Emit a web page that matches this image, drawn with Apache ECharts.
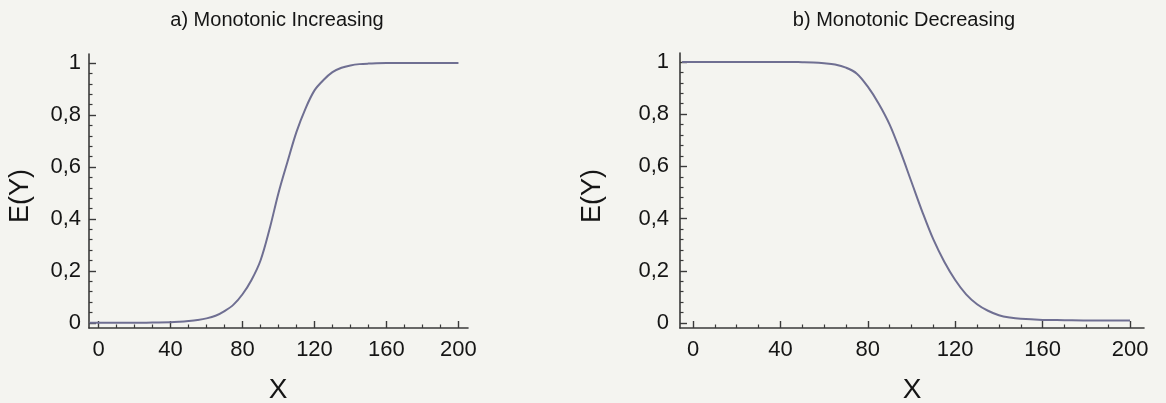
<!DOCTYPE html>
<html>
<head>
<meta charset="utf-8">
<script src="https://cdn.jsdelivr.net/npm/echarts@6/dist/echarts.min.js"></script>
<style>
html,body{margin:0;padding:0;background:#f4f4f0;}
#c{width:1166px;height:403px;}
</style>
</head>
<body>
<div id="c"></div>
<script>
// ---- data ----
const titleA = 'a) Monotonic Increasing';
const titleB = 'b) Monotonic Decreasing';
const xName = 'X';
const yName = 'E(Y)';
const xTicks = [0, 40, 80, 120, 160, 200];
const xMinor = [10, 20, 30, 50, 60, 70, 90, 100, 110, 130, 140, 150, 170, 180, 190];
const yTicks = [0, 0.2, 0.4, 0.6, 0.8, 1];
const yMinor = [0.04, 0.08, 0.12, 0.16, 0.24, 0.28, 0.32, 0.36, 0.44, 0.48, 0.52, 0.56, 0.64, 0.68, 0.72, 0.76, 0.84, 0.88, 0.92, 0.96];

const xA = [-5, 0, 10, 20, 30, 40, 45, 50, 55, 60, 65, 70, 75, 80, 85, 90, 95, 100, 105, 110, 115, 120, 125, 130, 135, 140, 145, 150, 160, 170, 180, 190, 200];
const yA = [0, 0, 0, 0, 0.001, 0.002, 0.004, 0.007, 0.011, 0.017, 0.027, 0.045, 0.07, 0.11, 0.165, 0.24, 0.36, 0.5, 0.62, 0.735, 0.825, 0.895, 0.935, 0.965, 0.982, 0.991, 0.996, 0.998, 1.0, 1.0, 1.0, 1.0, 1.0];

const xB = [-5, 0, 10, 20, 30, 40, 50, 55, 60, 65, 70, 75, 80, 85, 90, 95, 100, 105, 110, 115, 120, 125, 130, 135, 140, 145, 150, 160, 170, 180, 190, 200];
const yB = [1.0, 1.0, 1.0, 1.0, 1.0, 1.0, 0.999, 0.998, 0.995, 0.99, 0.978, 0.955, 0.905, 0.84, 0.76, 0.655, 0.54, 0.425, 0.32, 0.235, 0.165, 0.11, 0.072, 0.047, 0.03, 0.021, 0.016, 0.012, 0.011, 0.01, 0.01, 0.01];

// ---- styles ----
const axisColor = '#3a3a3a';
const textColor = '#151515';
const curveColor = '#6f6f92';
const font = 'Arial, "Liberation Sans", sans-serif';

function zip(xs, ys) { return xs.map((x, i) => [x, ys[i]]); }
const fmtY = v => String(v).replace('.', ',');

function xAxes(gi, min, max) {
  return [
    {
      gridIndex: gi, type: 'value', min: min, max: max, position: 'bottom',
      axisLine: { onZero: false, lineStyle: { color: axisColor, width: 1.6 } },
      axisTick: { inside: true, length: 7, customValues: xTicks, lineStyle: { color: axisColor, width: 1.4 } },
      axisLabel: { customValues: xTicks, margin: 11, color: textColor, fontSize: 22, fontFamily: font },
      splitLine: { show: false }
    },
    {
      gridIndex: gi, type: 'value', min: min, max: max, position: 'bottom', offset: 0,
      axisLine: { show: false, onZero: false },
      axisTick: { inside: true, length: 3.5, customValues: xMinor, lineStyle: { color: axisColor, width: 1.2 } },
      axisLabel: { show: false },
      splitLine: { show: false }
    }
  ];
}
function yAxes(gi, min, max, margin) {
  return [
    {
      gridIndex: gi, type: 'value', min: min, max: max, position: 'left',
      axisLine: { onZero: false, lineStyle: { color: axisColor, width: 1.6 } },
      axisTick: { inside: true, length: 7, customValues: yTicks, lineStyle: { color: axisColor, width: 1.4 } },
      axisLabel: { customValues: yTicks, margin: margin, color: textColor, fontSize: 22, fontFamily: font, formatter: fmtY },
      splitLine: { show: false }
    },
    {
      gridIndex: gi, type: 'value', min: min, max: max, position: 'left', offset: 0,
      axisLine: { show: false, onZero: false },
      axisTick: { inside: true, length: 3.5, customValues: yMinor, lineStyle: { color: axisColor, width: 1.2 } },
      axisLabel: { show: false },
      splitLine: { show: false }
    }
  ];
}

const chart = echarts.init(document.getElementById('c'), null, { renderer: 'canvas' });
chart.setOption({
  backgroundColor: '#f4f4f0',
  animation: false,
  grid: [
    { left: 89, top: 54, width: 379, height: 274 },
    { left: 680, top: 53, width: 464, height: 275 }
  ],
  xAxis: [].concat(xAxes(0, -5.3, 205.3), xAxes(1, -5.95, 206.4)),
  yAxis: [].concat(yAxes(0, -0.02, 1.035, 8), yAxes(1, -0.019, 1.034, 11)),
  series: [
    { type: 'line', xAxisIndex: 0, yAxisIndex: 0, data: zip(xA, yA), smooth: 0.35, showSymbol: false,
      lineStyle: { color: curveColor, width: 2 } },
    { type: 'line', xAxisIndex: 2, yAxisIndex: 2, data: zip(xB, yB), smooth: 0.35, showSymbol: false,
      lineStyle: { color: curveColor, width: 2 } }
  ],
  graphic: [
    { type: 'text', x: 277, y: 20, style: { text: titleA, font: '20px ' + font, fill: textColor, align: 'center', verticalAlign: 'middle' } },
    { type: 'text', x: 904, y: 20, style: { text: titleB, font: '20px ' + font, fill: textColor, align: 'center', verticalAlign: 'middle' } },
    { type: 'text', x: 278, y: 390, style: { text: xName, font: '28px ' + font, fill: textColor, align: 'center', verticalAlign: 'middle' } },
    { type: 'text', x: 912, y: 390, style: { text: xName, font: '28px ' + font, fill: textColor, align: 'center', verticalAlign: 'middle' } },
    { type: 'text', x: 21, y: 196, rotation: Math.PI / 2, style: { text: yName, font: '27px ' + font, fill: textColor, align: 'center', verticalAlign: 'middle' } },
    { type: 'text', x: 593, y: 196, rotation: Math.PI / 2, style: { text: yName, font: '27px ' + font, fill: textColor, align: 'center', verticalAlign: 'middle' } }
  ]
});
</script>
</body>
</html>
